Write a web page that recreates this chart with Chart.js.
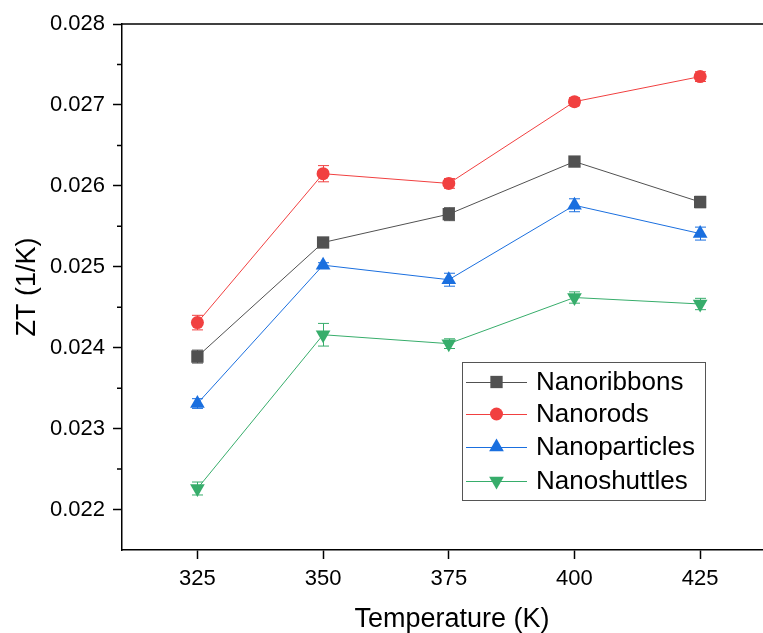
<!DOCTYPE html>
<html>
<head>
<meta charset="utf-8">
<title>ZT vs Temperature</title>
<script src="https://cdn.jsdelivr.net/npm/chart.js@4.4.1/dist/chart.umd.min.js"></script>
<style>
  html, body { margin: 0; padding: 0; background: #fff; }
  canvas { display: block; }
</style>
</head>
<body>
<canvas id="zt" width="763" height="633"></canvas>
<script>
'use strict';
// ── data ───────────────────────────────────────────────────
const temps = [325, 350, 375, 400, 425];

const nanoribbons   = [0.02389, 0.02530, 0.02565, 0.02630, 0.02580];
const nanorods      = [0.02431, 0.02615, 0.02603, 0.02704, 0.02735];
const nanoparticles = [0.02331, 0.02502, 0.02484, 0.02576, 0.02541];
const nanoshuttles  = [0.02226, 0.02416, 0.02405, 0.02462, 0.02454];

const errRibbons   = [0.00008, 0.00003, 0.00008, 0.00005, 0.00007];
const errRods      = [0.00009, 0.00010, 0.00006, 0.00005, 0.00006];
const errParticles = [0.00006, 0.00003, 0.00008, 0.00008, 0.00008];
const errShuttles  = [0.00008, 0.00014, 0.00006, 0.00007, 0.00007];

const xTicks = [325, 350, 375, 400, 425];
const yTicks = [0.022, 0.023, 0.024, 0.025, 0.026, 0.027, 0.028];
const yMinorTicks = [0.0225, 0.0235, 0.0245, 0.0255, 0.0265, 0.0275];

const FONT = "'Liberation Sans', Arial, sans-serif";

function series(label, values, errors, color, style, radius, rotation) {
  return {
    label,
    data: temps.map((t, i) => ({ x: t, y: values[i] })),
    errors,
    borderColor: color,
    borderWidth: 1,
    backgroundColor: color,
    pointBackgroundColor: color,
    pointBorderColor: color,
    pointBorderWidth: 0,
    pointStyle: style,
    pointRadius: radius,
    pointHoverRadius: radius,
    pointRotation: rotation || 0,
    tension: 0,
  };
}

// ── plugins ────────────────────────────────────────────────
const errorBars = {
  id: 'errorBars',
  afterDatasetsDraw(chart) {
    const { ctx, scales: { x, y } } = chart;
    chart.data.datasets.forEach(ds => {
      ctx.save();
      ctx.strokeStyle = ds.borderColor;
      ctx.lineWidth = 1;
      ds.data.forEach((p, j) => {
        const px = Math.round(x.getPixelForValue(p.x)) + 0.5;
        const hi = y.getPixelForValue(p.y + ds.errors[j]);
        const lo = y.getPixelForValue(p.y - ds.errors[j]);
        ctx.beginPath();
        ctx.moveTo(px, hi); ctx.lineTo(px, lo);
        ctx.moveTo(px - 5.5, hi); ctx.lineTo(px + 5.5, hi);
        ctx.moveTo(px - 5.5, lo); ctx.lineTo(px + 5.5, lo);
        ctx.stroke();
      });
      ctx.restore();
    });
  },
};

const frame = {
  id: 'frame',
  afterDraw(chart) {
    const { ctx, chartArea: a, scales: { y } } = chart;
    ctx.save();
    ctx.strokeStyle = '#000';
    ctx.lineWidth = 1.5;
    // top border
    ctx.beginPath();
    ctx.moveTo(a.left, a.top);
    ctx.lineTo(a.right, a.top);
    ctx.stroke();
    // minor ticks on y
    ctx.beginPath();
    yMinorTicks.forEach(v => {
      const py = y.getPixelForValue(v);
      ctx.moveTo(a.left, py);
      ctx.lineTo(a.left - 5, py);
    });
    ctx.stroke();
    // x axis title (Origin centres it slightly right of the visible area)
    ctx.fillStyle = '#000';
    ctx.font = `27px ${FONT}`;
    ctx.textAlign = 'center';
    ctx.textBaseline = 'alphabetic';
    ctx.fillText('Temperature (K)', 452, 626.5);
    ctx.restore();
  },
};

const boxLegend = {
  id: 'boxLegend',
  afterDraw(chart) {
    const { ctx } = chart;
    const box = { x: 462.5, y: 362.5, w: 243, h: 138 };
    const rows = [382, 414, 447, 481];
    ctx.save();
    ctx.fillStyle = '#fff';
    ctx.fillRect(box.x, box.y, box.w, box.h);
    ctx.strokeStyle = '#555';
    ctx.lineWidth = 1;
    ctx.strokeRect(box.x, box.y, box.w, box.h);
    chart.data.datasets.forEach((ds, i) => {
      const cy = rows[i];
      ctx.strokeStyle = ds.borderColor;
      ctx.lineWidth = 1;
      ctx.beginPath();
      ctx.moveTo(466, cy + 0.5);
      ctx.lineTo(527, cy + 0.5);
      ctx.stroke();
      ctx.fillStyle = ds.pointBackgroundColor;
      Chart.helpers.drawPoint(ctx, {
        pointStyle: ds.pointStyle,
        radius: ds.pointRadius,
        rotation: ds.pointRotation,
        borderWidth: 0,
      }, 496.5, cy);
      ctx.fillStyle = '#000';
      ctx.font = `26px ${FONT}`;
      ctx.textBaseline = 'middle';
      ctx.textAlign = 'left';
      ctx.fillText(ds.label, 536, cy + 1);
    });
    ctx.restore();
  },
};

// ── chart ──────────────────────────────────────────────────
new Chart(document.getElementById('zt').getContext('2d'), {
  type: 'line',
  data: {
    datasets: [
      series('Nanoribbons',   nanoribbons,   errRibbons,   '#515151', 'rect',     8.7),
      series('Nanorods',      nanorods,      errRods,      '#F14040', 'circle',   6.5),
      series('Nanoparticles', nanoparticles, errParticles, '#1A6FDF', 'triangle', 8.5),
      series('Nanoshuttles',  nanoshuttles,  errShuttles,  '#37AD6B', 'triangle', 8.5, 180),
    ],
  },
  options: {
    responsive: false,
    devicePixelRatio: 1,
    animation: false,
    layout: { autoPadding: false, padding: { top: 24, right: 0, left: 0, bottom: 0 } },
    plugins: { legend: { display: false }, tooltip: { enabled: false } },
    scales: {
      x: {
        type: 'linear',
        min: 310, max: 437.5,
        afterBuildTicks: s => { s.ticks = xTicks.map(v => ({ value: v })); },
        afterFit: s => { s.height = 83; s.paddingLeft = 0; s.paddingRight = 0; },
        border: { color: '#000', width: 1.5 },
        grid: { drawOnChartArea: false, tickLength: 9, tickColor: '#000', tickWidth: 1.5 },
        ticks: { color: '#000', font: { family: FONT, size: 22 }, padding: 7 },
        title: { display: false },
      },
      y: {
        type: 'linear',
        min: 0.0215, max: 0.028,
        afterBuildTicks: s => { s.ticks = yTicks.map(v => ({ value: v })); },
        afterFit: s => { s.width = 122; s.paddingTop = 0; s.paddingBottom = 0; },
        border: { color: '#000', width: 1.5 },
        grid: { drawOnChartArea: false, tickLength: 9, tickColor: '#000', tickWidth: 1.5 },
        ticks: { color: '#000', font: { family: FONT, size: 22 }, padding: 8,
                 callback: v => v.toFixed(3) },
        title: {
          display: true, text: 'ZT (1/K)', color: '#000',
          font: { family: FONT, size: 27 }, padding: { top: 11, bottom: 0 },
        },
      },
    },
  },
  plugins: [errorBars, frame, boxLegend],
});
</script>
</body>
</html>
